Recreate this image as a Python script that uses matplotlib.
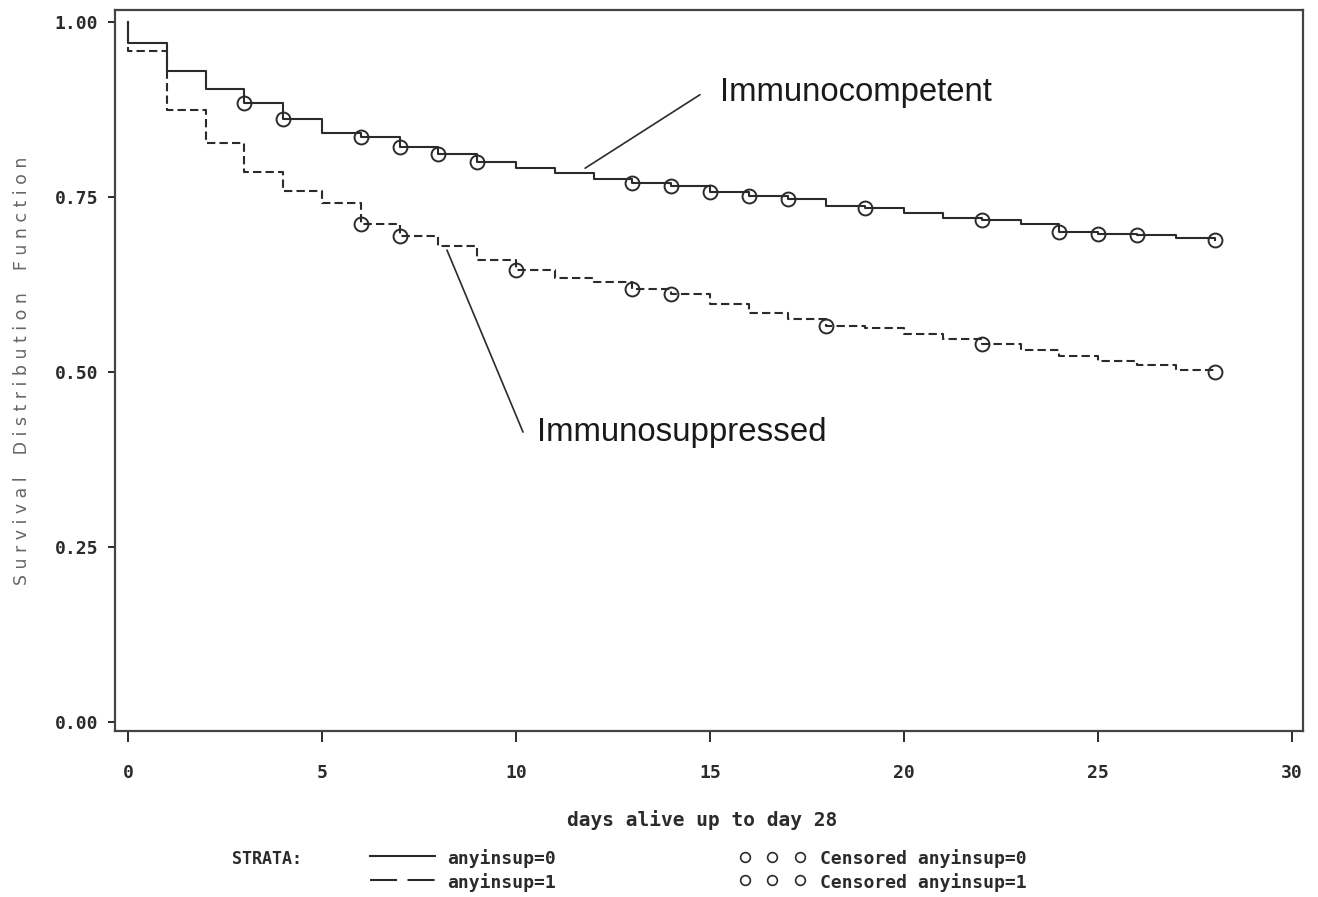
import numpy as np
import matplotlib
matplotlib.use("Agg")
import matplotlib.pyplot as plt
from matplotlib.lines import Line2D

# Kaplan-Meier steps (days, survival)
days_0 = [0, 0, 1, 2, 3, 4, 5, 6, 7, 8, 9, 10, 11, 12, 13, 14, 15, 16, 17, 18, 19, 20, 21, 22, 23, 24, 25, 26, 27, 28]
surv_0 = [1.0, 0.970, 0.930, 0.904, 0.884, 0.862, 0.842, 0.835, 0.822, 0.812, 0.800, 0.791, 0.784, 0.775, 0.770,
          0.765, 0.757, 0.752, 0.747, 0.737, 0.734, 0.727, 0.720, 0.717, 0.711, 0.700, 0.697, 0.695, 0.692, 0.689]
days_1 = [0, 0, 1, 2, 3, 4, 5, 6, 7, 8, 9, 10, 11, 12, 13, 14, 15, 16, 17, 18, 19, 20, 21, 22, 23, 24, 25, 26, 27, 28]
surv_1 = [1.0, 0.959, 0.874, 0.827, 0.786, 0.759, 0.742, 0.711, 0.694, 0.680, 0.660, 0.646, 0.634, 0.629, 0.619,
          0.612, 0.597, 0.584, 0.576, 0.566, 0.563, 0.554, 0.547, 0.540, 0.531, 0.523, 0.515, 0.510, 0.503, 0.500]

# censored times
cens_0 = [3, 4, 6, 7, 8, 9, 13, 14, 15, 16, 17, 19, 22, 24, 25, 26, 28]
cens_1 = [6, 7, 10, 13, 14, 18, 22, 28]

x_ticks = [0, 5, 10, 15, 20, 25, 30]
y_ticks = [0.0, 0.25, 0.5, 0.75, 1.0]

ink = "#2b2b2b"
mono = "DejaVu Sans Mono"


def surv_at(days, surv, t):
    # value of the step function (post) at time t
    idx = np.searchsorted(np.array(days), t, side="right") - 1
    return np.array(surv)[idx]


W, H, DPI = 1318, 897, 100
fig = plt.figure(figsize=(W / DPI, H / DPI), dpi=DPI)
ax = fig.add_axes([115 / W, 1 - 731 / H, (1303 - 115) / W, (731 - 10) / H])

ax.step(days_0, surv_0, where="post", color=ink, lw=1.5)
ax.step(days_1, surv_1, where="post", color=ink, lw=1.5, linestyle=(0, (4, 2)))

ax.plot(cens_0, surv_at(days_0, surv_0, cens_0), "o", ms=10, mfc="none", mec=ink, mew=1.4)
ax.plot(cens_1, surv_at(days_1, surv_1, cens_1), "o", ms=10, mfc="none", mec=ink, mew=1.4)

ax.set_xlim(-0.335, 30.28)
ax.set_ylim(-0.013, 1.017)
ax.set_xticks(x_ticks)
ax.set_xticklabels([str(t) for t in x_ticks])
ax.set_yticks(y_ticks)
ax.set_yticklabels(["%.2f" % v for v in y_ticks])

for sp in ax.spines.values():
    sp.set_linewidth(1.6)
    sp.set_color("#444444")
ax.tick_params(axis="x", direction="out", length=8, width=1.4, pad=16, colors=ink)
ax.tick_params(axis="y", direction="out", length=5, width=1.4, pad=7, colors=ink)
for lab in ax.get_xticklabels() + ax.get_yticklabels():
    lab.set_fontfamily(mono)
    lab.set_fontweight("bold")
    lab.set_fontsize(13)

# annotations
ax.annotate("", xy=(11.78, 0.791), xytext=(14.74, 0.896),
            arrowprops=dict(arrowstyle="-", color=ink, lw=1.2, shrinkA=0, shrinkB=0))
ax.text(15.26, 0.899, "Immunocompetent", fontsize=23.7, family="Liberation Sans",
        ha="left", va="center", color="#1a1a1a")
ax.annotate("", xy=(8.22, 0.674), xytext=(10.18, 0.414),
            arrowprops=dict(arrowstyle="-", color=ink, lw=1.2, shrinkA=0, shrinkB=0))
ax.text(10.54, 0.414, "Immunosuppressed", fontsize=23.8, family="Liberation Sans",
        ha="left", va="center", color="#1a1a1a")

# axis labels
ylab = "    ".join(" ".join(w) for w in "Survival Distribution Function".split())
fig.text(22 / W, 1 - 371 / H, ylab, rotation=90, family="DejaVu Sans", fontsize=12.5,
         color="#666666", ha="center", va="center")
fig.text(702 / W, 1 - 820 / H, "days alive up to day 28", family=mono, fontweight="bold",
         fontsize=14, color=ink, ha="center", va="center")

# SAS-style legend at the bottom
fig.text(232 / W, 1 - 859 / H, "STRATA:", family=mono, fontweight="bold", fontsize=12,
         color=ink, ha="left", va="center")
fig.add_artist(Line2D([370 / W, 435 / W], [1 - 856 / H, 1 - 856 / H], color=ink, lw=1.5))
fig.add_artist(Line2D([370 / W, 435 / W], [1 - 880 / H, 1 - 880 / H], color=ink, lw=1.5,
                      linestyle=(0, (13, 5))))
fig.text(447 / W, 1 - 859 / H, "anyinsup=0", family=mono, fontweight="bold", fontsize=13,
         color=ink, ha="left", va="center")
fig.text(447 / W, 1 - 883 / H, "anyinsup=1", family=mono, fontweight="bold", fontsize=13,
         color=ink, ha="left", va="center")
for yy in (857, 880):
    fig.add_artist(Line2D([745 / W, 772 / W, 800 / W], [1 - yy / H] * 3, linestyle="none",
                          marker="o", ms=7, mfc="none", mec=ink, mew=1.2))
fig.text(820 / W, 1 - 859 / H, "Censored anyinsup=0", family=mono, fontweight="bold", fontsize=13,
         color=ink, ha="left", va="center")
fig.text(820 / W, 1 - 883 / H, "Censored anyinsup=1", family=mono, fontweight="bold", fontsize=13,
         color=ink, ha="left", va="center")

fig.savefig("out.png", dpi=DPI)
